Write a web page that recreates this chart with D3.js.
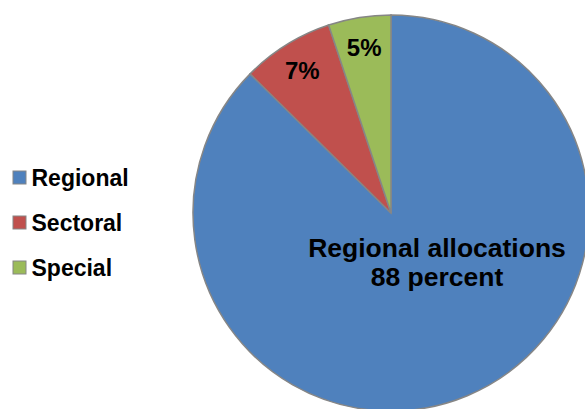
<!DOCTYPE html>
<html><head><meta charset="utf-8">
<script src="https://cdn.jsdelivr.net/npm/d3@7"></script>
<style>body{margin:0;background:#fff}svg{display:block}text{font-family:"Liberation Sans",Arial,sans-serif;font-weight:bold;fill:#000}</style>
</head><body>
<script>
const categories = ["Regional", "Sectoral", "Special"];
const values = [87.4, 7.5, 5.1];
const sliceLabels = [null, "7%", "5%"];
const colors = ["#4F81BD", "#C0504D", "#9BBB59"];
const mainLabel = ["Regional allocations", "88 percent"];

const W = 585, H = 409;
const svg = d3.select("body").append("svg").attr("width", W).attr("height", H);
const cx = 391, cy = 213, R = 198;

const pie = d3.pie().sort(null).value(d => d)(values);
const arc = d3.arc().innerRadius(0).outerRadius(R);
const labelArc = d3.arc().innerRadius(168).outerRadius(168);
const color = d3.scaleOrdinal().domain(categories).range(colors);

const g = svg.append("g").attr("transform", `translate(${cx},${cy})`);
g.selectAll("path").data(pie).join("path")
  .attr("d", arc)
  .attr("fill", (d, i) => color(categories[i]))
  .attr("stroke", "#868686").attr("stroke-width", 1.5);

g.selectAll("text.pl").data(pie.filter((d, i) => sliceLabels[i]))
  .join("text").attr("class", "pl")
  .attr("transform", d => `translate(${labelArc.centroid(d)})`)
  .attr("text-anchor", "middle").attr("dy", "0.36em")
  .style("font-size", "24px")
  .text(d => sliceLabels[d.index]);

const ml = g.append("text").attr("text-anchor", "middle").style("font-size", "26.5px");
ml.selectAll("tspan").data(mainLabel).join("tspan")
  .attr("x", 46).attr("y", (d, i) => 44 + i * 28.5).text(d => d);

const leg = svg.append("g");
const items = leg.selectAll("g").data(categories).join("g")
  .attr("transform", (d, i) => `translate(13,${171 + i * 45})`);
items.append("rect").attr("width", 13).attr("height", 13)
  .attr("fill", d => color(d)).attr("stroke", "#868686").attr("stroke-width", 1);
items.append("text").attr("x", 18.5).attr("y", 15).style("font-size", "23px").text(d => d);
</script>
</body></html>
